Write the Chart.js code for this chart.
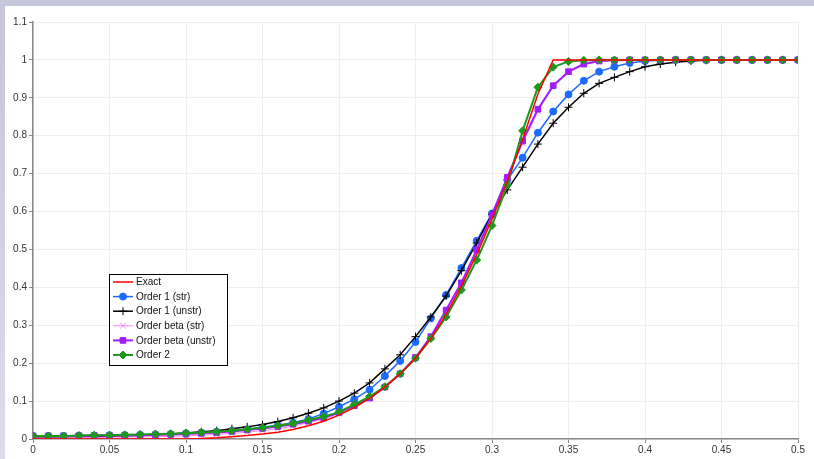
<!DOCTYPE html>
<html>
<head>
<meta charset="utf-8">
<script src="https://cdn.jsdelivr.net/npm/chart.js@4"></script>
<style>
    html, body { margin: 0; padding: 0; }
    body {
        width: 814px; height: 459px; overflow: hidden; position: relative;
        background: linear-gradient(#c6c6dc, #dcdcea);
    }
    #panel { position: absolute; left: 5px; top: 6px; right: 0; bottom: 0; background: #fff; }
    #chart0 { position: absolute; left: 0; top: 0; }
</style>
</head>
<body>
<div id="panel"></div>
<canvas id="chart0" width="814" height="459"></canvas>
<script>
const xs = [0, 0.01, 0.02, 0.03, 0.04, 0.05, 0.06, 0.07, 0.08, 0.09,
    0.1, 0.11, 0.12, 0.13, 0.14, 0.15, 0.16, 0.17, 0.18, 0.19,
    0.2, 0.21, 0.22, 0.23, 0.24, 0.25, 0.26, 0.27, 0.28, 0.29,
    0.3, 0.31, 0.32, 0.33, 0.34, 0.35, 0.36, 0.37, 0.38, 0.39,
    0.4, 0.41, 0.42, 0.43, 0.44, 0.45, 0.46, 0.47, 0.48, 0.49, 0.5];

const exact = [0, 0, 0, 0, 0, 0, 0, 0, 0, 0,
    0, 0.001, 0.003, 0.006, 0.009, 0.013, 0.018, 0.025, 0.035, 0.047,
    0.063, 0.083, 0.107, 0.137, 0.172, 0.213, 0.265, 0.328, 0.403, 0.487,
    0.58, 0.68, 0.79, 0.91, 1, 1, 1, 1, 1, 1,
    1, 1, 1, 1, 1, 1, 1, 1, 1, 1, 1];

const order1Str = [0.008, 0.008, 0.008, 0.009, 0.009, 0.010, 0.010, 0.011, 0.012, 0.013,
    0.015, 0.017, 0.019, 0.022, 0.026, 0.031, 0.036, 0.043, 0.053, 0.067,
    0.085, 0.105, 0.13, 0.166, 0.206, 0.256, 0.318, 0.38, 0.451, 0.523,
    0.595, 0.683, 0.742, 0.808, 0.864, 0.909, 0.945, 0.969, 0.982, 0.992,
    0.997, 0.999, 1, 1, 1, 1, 1, 1, 1, 1, 1];

const order1Unstr = [0.004, 0.004, 0.005, 0.005, 0.006, 0.007, 0.008, 0.009, 0.011, 0.013,
    0.016, 0.019, 0.022, 0.027, 0.032, 0.038, 0.046, 0.056, 0.068, 0.082,
    0.1, 0.121, 0.148, 0.185, 0.222, 0.27, 0.322, 0.377, 0.444, 0.517,
    0.593, 0.657, 0.717, 0.778, 0.833, 0.875, 0.912, 0.938, 0.954, 0.969,
    0.982, 0.989, 0.994, 0.997, 0.999, 1, 1, 1, 1, 1, 1];

const betaStr = [0.003, 0.003, 0.003, 0.004, 0.004, 0.005, 0.005, 0.006, 0.006, 0.007,
    0.008, 0.010, 0.012, 0.015, 0.018, 0.022, 0.027, 0.034, 0.043, 0.053,
    0.067, 0.085, 0.107, 0.136, 0.171, 0.214, 0.268, 0.335, 0.41, 0.495,
    0.59, 0.69, 0.78, 0.865, 0.93, 0.968, 0.988, 0.996, 0.999, 1,
    1, 1, 1, 1, 1, 1, 1, 1, 1, 1, 1];

const betaUnstr = [0.008, 0.008, 0.008, 0.008, 0.009, 0.009, 0.010, 0.010, 0.011, 0.012,
    0.013, 0.015, 0.017, 0.020, 0.024, 0.028, 0.033, 0.039, 0.047, 0.056,
    0.07, 0.088, 0.108, 0.137, 0.172, 0.215, 0.27, 0.34, 0.412, 0.499,
    0.591, 0.69, 0.786, 0.87, 0.932, 0.969, 0.989, 0.997, 0.999, 1,
    1, 1, 1, 1, 1, 1, 1, 1, 1, 1, 1];

const order2 = [0.008, 0.008, 0.008, 0.009, 0.010, 0.010, 0.011, 0.012, 0.013, 0.014,
    0.015, 0.017, 0.019, 0.022, 0.026, 0.03, 0.035, 0.041, 0.05, 0.059,
    0.071, 0.091, 0.112, 0.138, 0.172, 0.213, 0.265, 0.322, 0.393, 0.472,
    0.563, 0.67, 0.813, 0.928, 0.981, 0.996, 0.999, 1, 1, 1,
    1, 1, 1, 1, 1, 1, 1, 1, 1, 1, 1];

const seriesLabels = ["Exact", "Order 1 (str)", "Order 1 (unstr)", "Order beta (str)", "Order beta (unstr)", "Order 2"];

function pts(ys) {
    return xs.map((x, i) => ({ x: x, y: ys[i] }));
}

function fmt(v) {
    return String(Number(v.toFixed(2)));
}

// legend drawn inside the plot, boxed like the original
const boxLegend = {
    id: "boxLegend",
    afterDraw(chart) {
        const ctx = chart.ctx;
        const left = 109, top = 274, w = 118, h = 91;
        ctx.save();
        ctx.fillStyle = "#fff";
        ctx.fillRect(left, top, w, h);
        ctx.strokeStyle = "#000";
        ctx.lineWidth = 1;
        ctx.strokeRect(left + 0.5, top + 0.5, w, h);
        ctx.font = "10px 'Liberation Sans'";
        ctx.textBaseline = "middle";
        chart.data.datasets.forEach((ds, i) => {
            const y = 282 + i * 14.6;
            ctx.strokeStyle = ds.borderColor;
            ctx.lineWidth = ds.borderWidth;
            ctx.beginPath();
            ctx.moveTo(113, y);
            ctx.lineTo(133, y);
            ctx.stroke();
            if (ds.pointRadius > 0) {
                ctx.fillStyle = ds.pointBackgroundColor;
                ctx.strokeStyle = ds.pointBorderColor;
                ctx.lineWidth = ds.pointBorderWidth;
                Chart.helpers.drawPoint(ctx, {
                    pointStyle: ds.pointStyle,
                    radius: ds.pointRadius,
                    borderWidth: ds.pointBorderWidth,
                }, 123, y);
            }
            ctx.fillStyle = "#111";
            ctx.fillText(ds.label, 136, y + 0.5);
        });
        ctx.restore();
    },
};

function ds(label, ys, color, width, style, radius, order) {
    return {
        label: label,
        data: pts(ys),
        borderColor: color,
        backgroundColor: color,
        pointBackgroundColor: color,
        pointBorderColor: color,
        borderWidth: width,
        pointStyle: style,
        pointRadius: radius,
        pointBorderWidth: 1,
        tension: 0,
        order: order,
    };
}

const ctx = document.getElementById("chart0").getContext("2d");
const chart = new Chart(ctx, {
    type: "line",
    data: {
        datasets: [
            ds(seriesLabels[0], exact, "#ff0000", 1.5, false, 0, 0),
            ds(seriesLabels[1], order1Str, "#1c6bff", 1.5, "circle", 3.5, 5),
            ds(seriesLabels[2], order1Unstr, "#000000", 1.5, "cross", 4, 4),
            ds(seriesLabels[3], betaStr, "#ff80ff", 1, "crossRot", 4, 3),
            ds(seriesLabels[4], betaUnstr, "#a31cff", 2, "rect", 4, 2),
            ds(seriesLabels[5], order2, "#1c9a1c", 2, "rectRot", 4, 1),
        ],
    },
    options: {
        responsive: false,
        animation: false,
        layout: { padding: { top: 22, right: 16, left: 0, bottom: 0 } },
        plugins: { legend: { display: false }, tooltip: { enabled: false } },
        scales: {
            x: {
                type: "linear",
                min: 0,
                max: 0.5,
                ticks: {
                    stepSize: 0.05,
                    color: "#333",
                    font: { size: 10, family: "Liberation Sans" },
                    padding: 1,
                    maxRotation: 0,
                    callback: fmt,
                },
                grid: { color: "#eeeeee", lineWidth: 1, tickLength: 4, tickColor: "#888" },
                border: { color: "#888", width: 1.5 },
                afterFit(scale) { scale.height = 20; },
            },
            y: {
                min: 0,
                max: 1.1,
                ticks: {
                    stepSize: 0.1,
                    color: "#333",
                    font: { size: 10, family: "Liberation Sans" },
                    padding: 2,
                    callback: fmt,
                },
                grid: { color: "#eeeeee", lineWidth: 1, tickLength: 4, tickColor: "#888" },
                border: { color: "#888", width: 1.5 },
                afterFit(scale) { scale.width = 33; },
            },
        },
    },
    plugins: [boxLegend],
});
</script>
</body>
</html>
